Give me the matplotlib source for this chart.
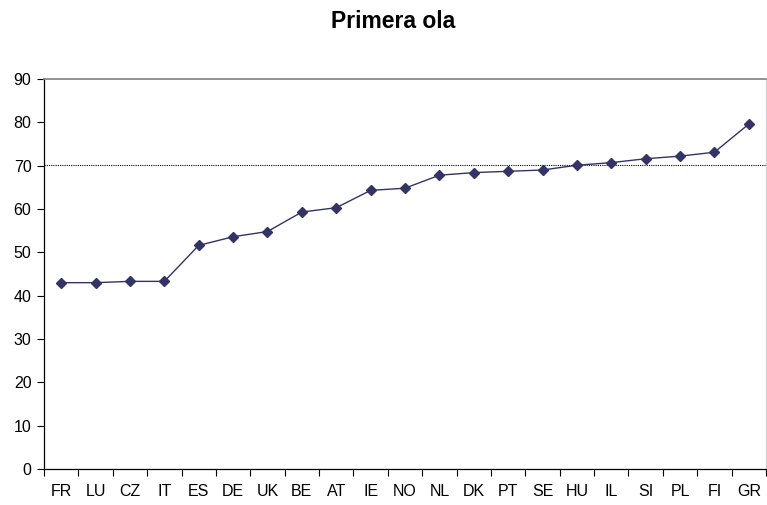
import matplotlib
matplotlib.use("Agg")
import matplotlib.pyplot as plt
import numpy as np

# data
countries = ['FR', 'LU', 'CZ', 'IT', 'ES', 'DE', 'UK', 'BE', 'AT', 'IE', 'NO',
             'NL', 'DK', 'PT', 'SE', 'HU', 'IL', 'SI', 'PL', 'FI', 'GR']
values = [43.0, 43.0, 43.3, 43.3, 51.6, 53.6, 54.8, 59.3, 60.3, 64.3, 64.8,
          67.8, 68.4, 68.7, 69.0, 70.1, 70.7, 71.6, 72.2, 73.1, 79.6]
ref_line = 70.1
title = 'Primera ola'

plt.rcParams['font.family'] = ['Liberation Sans', 'DejaVu Sans']

fig = plt.figure(figsize=(7.67, 5.05), dpi=100)
ax = fig.add_axes([44/767, 36/505, 722/767, 390/505])

x = np.arange(len(countries))
ax.plot(x, values, color='#333366', lw=1.0, marker='D', markersize=5,
        markerfacecolor='#333366', markeredgecolor='#333366', zorder=3)
ax.axhline(ref_line, color='black', lw=0.8, ls=(0, (1, 1)), zorder=2)

ax.set_xlim(-0.5, len(countries) - 0.5)
ax.set_ylim(0, 90)
ax.set_yticks(range(0, 91, 10))

# category boundaries as major ticks, labels on minor ticks at centres
ax.set_xticks(np.arange(-0.5, len(countries), 1.0))
ax.set_xticklabels([])
ax.set_xticks(x, minor=True)
ax.set_xticklabels(countries, minor=True)
ax.tick_params(axis='x', which='major', direction='out', length=5, width=0.8)
ax.tick_params(axis='x', which='minor', length=0, pad=11, labelsize=11.5)
ax.tick_params(axis='y', direction='out', length=5, width=0.8, labelsize=11.5, pad=4)

for side in ['left', 'bottom']:
    ax.spines[side].set_color('black')
    ax.spines[side].set_linewidth(0.9)
ax.spines['top'].set_color('#808080')
ax.spines['top'].set_linewidth(1.2)
ax.spines['right'].set_color('#d0d0d0')
ax.spines['right'].set_linewidth(0.8)

fig.text(393/767, 1 - 21/505, title, ha='center', va='center',
         fontsize=16.5, fontweight='bold')

fig.savefig('out.png', dpi=100)
